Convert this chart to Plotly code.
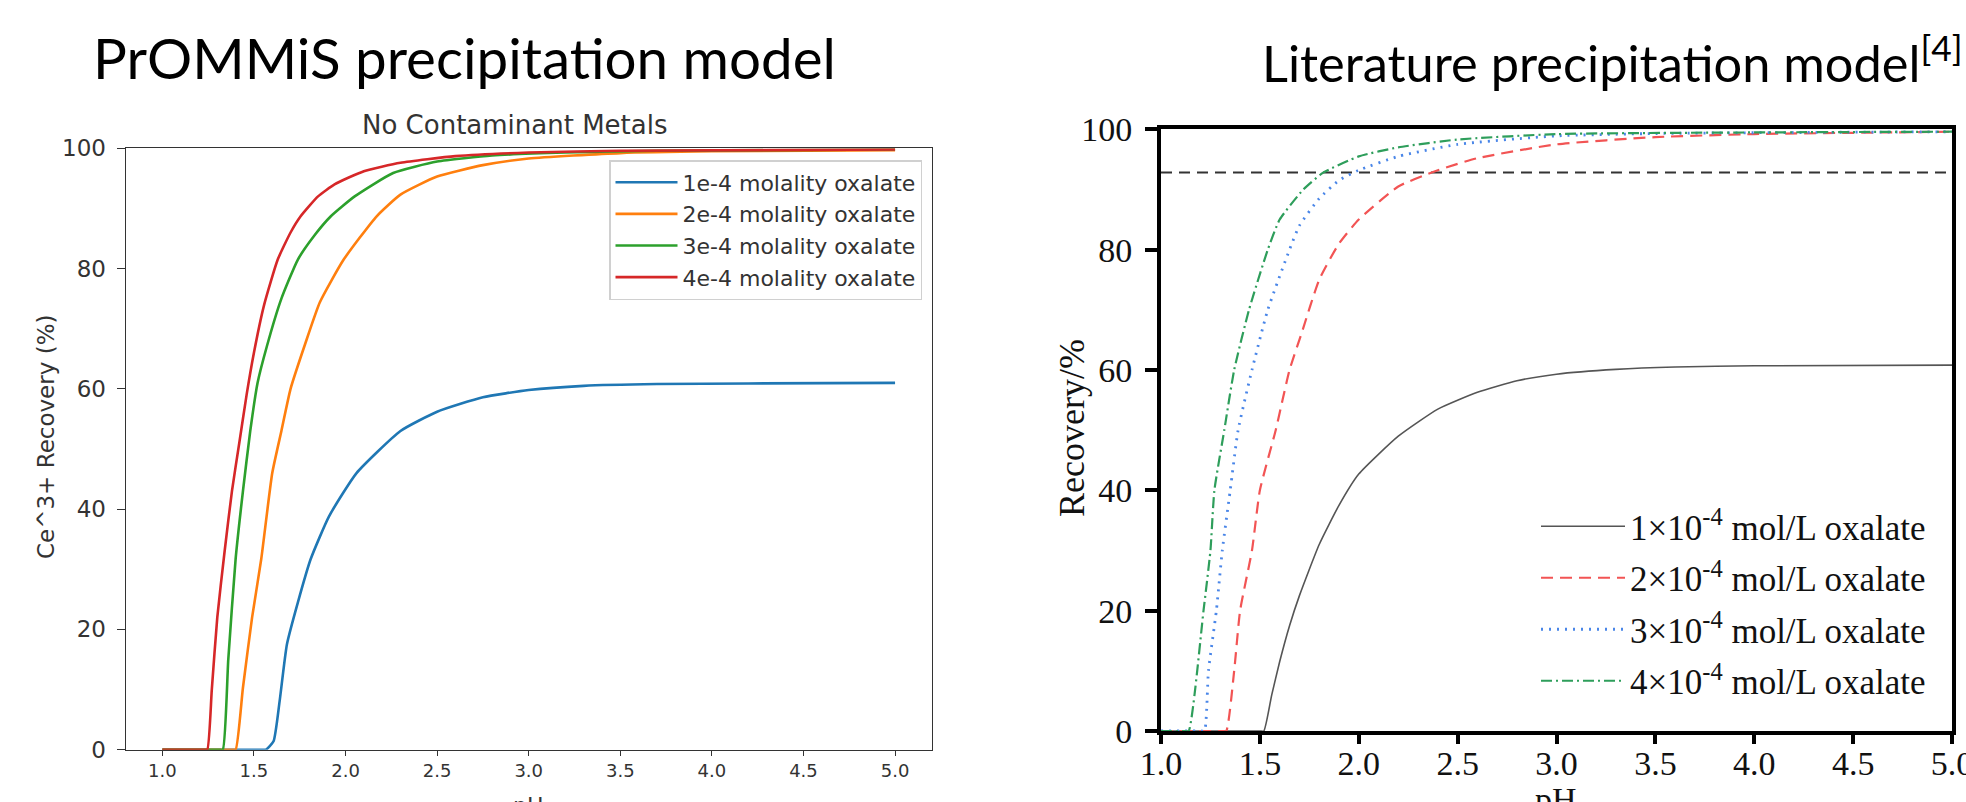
import plotly.graph_objects as go

# ---------------- data: PrOMMiS precipitation model (left) ----------------
prommis_labels = ["1e-4 molality oxalate", "2e-4 molality oxalate",
                  "3e-4 molality oxalate", "4e-4 molality oxalate"]
prommis_colors = ["#1f77b4", "#ff7f0e", "#2ca02c", "#d62728"]

ph_1e4 = [1.0, 1.54, 1.565, 1.607, 1.64, 1.68, 1.74, 1.81, 1.91, 2.06, 2.30, 2.5, 2.75, 3.0, 3.3, 3.7, 4.2, 5.0]
rec_1e4 = [0, 0, 0, 1.4, 8, 17.5, 24.5, 31.7, 38.8, 46, 53, 56.2, 58.6, 59.8, 60.5, 60.8, 60.9, 61.0]

ph_2e4 = [1.0, 1.38, 1.40, 1.44, 1.49, 1.54, 1.60, 1.65, 1.70, 1.78, 1.86, 1.99, 2.17, 2.30, 2.5, 2.75, 3.0, 3.5, 4.0, 5.0]
rec_2e4 = [0, 0, 0, 10.3, 22, 31.7, 46, 53, 60, 67.5, 74.4, 81.5, 88.7, 92.3, 95.3, 97.2, 98.3, 99.2, 99.5, 99.7]

ph_3e4 = [1.0, 1.31, 1.33, 1.36, 1.40, 1.44, 1.48, 1.52, 1.57, 1.65, 1.74, 1.83, 1.92, 2.05, 2.26, 2.5, 2.8, 3.2, 3.7, 5.0]
rec_3e4 = [0, 0, 0, 15, 31.7, 43, 53, 61, 67, 75, 81.5, 85.5, 88.7, 92, 95.9, 97.8, 98.8, 99.3, 99.6, 99.8]

ph_4e4 = [1.0, 1.225, 1.245, 1.27, 1.30, 1.34, 1.38, 1.42, 1.46, 1.50, 1.556, 1.63, 1.70, 1.755, 1.85, 1.94, 2.1, 2.3, 2.6, 3.0, 3.5, 5.0]
rec_4e4 = [0, 0, 0, 10, 22, 33, 43, 51, 59, 66, 74, 81.5, 86, 88.7, 92, 94, 96.2, 97.6, 98.7, 99.3, 99.6, 99.8]

# ---------------- data: literature precipitation model (right) ----------------
lit_labels = ["1×10<sup>-4</sup> mol/L oxalate", "2×10<sup>-4</sup> mol/L oxalate",
              "3×10<sup>-4</sup> mol/L oxalate", "4×10<sup>-4</sup> mol/L oxalate"]

lit_ph_1 = [1.0, 1.50, 1.52, 1.56, 1.6, 1.65, 1.7, 1.8, 1.9, 2.0, 2.2, 2.4, 2.6, 2.8, 3.0, 3.3, 3.6, 4.0, 5.0]
lit_rec_1 = [0, 0, 0, 6, 11.5, 17.5, 22.5, 31, 37.5, 42.7, 49, 53.5, 56.3, 58.2, 59.3, 60.1, 60.5, 60.7, 60.8]

lit_ph_2 = [1.0, 1.31, 1.33, 1.37, 1.40, 1.46, 1.50, 1.58, 1.65, 1.71, 1.8, 1.9, 2.0, 2.2, 2.4, 2.6, 3.0, 3.5, 4.0, 5.0]
lit_rec_2 = [0, 0, 0, 10, 20, 30, 40, 50, 60, 66, 75, 81, 85, 90.5, 93.2, 95.2, 97.5, 98.7, 99.2, 99.6]

lit_ph_3 = [1.0, 1.20, 1.22, 1.24, 1.28, 1.31, 1.35, 1.39, 1.46, 1.54, 1.65, 1.70, 1.8, 1.9, 2.0, 2.2, 2.5, 3.0, 3.5, 5.0]
lit_rec_3 = [0, 0, 0, 10, 20, 30, 40, 50, 60, 70, 80, 84, 88.5, 91.5, 93.2, 95.5, 97.5, 98.9, 99.3, 99.6]

lit_ph_4 = [1.0, 1.12, 1.14, 1.215, 1.25, 1.27, 1.32, 1.37, 1.445, 1.54, 1.60, 1.72, 1.82, 2.0, 2.2, 2.5, 3.0, 5.0]
lit_rec_4 = [0, 0, 0, 20, 30, 40, 50, 60, 70, 80, 85, 90, 92.8, 95.5, 97, 98.3, 99.2, 99.6]

threshold_ph = [1.0, 5.0]
threshold_rec = [92.8, 92.8]

x_ticks = [1.0, 1.5, 2.0, 2.5, 3.0, 3.5, 4.0, 4.5, 5.0]
x_ticktext = ["1.0", "1.5", "2.0", "2.5", "3.0", "3.5", "4.0", "4.5", "5.0"]
y_ticks = [0, 20, 40, 60, 80, 100]

# ---------------- figure ----------------
W, H = 1966, 802
def px(x):
    return x / W
def py(y):
    return 1 - y / H

fig = go.Figure()

left_series = [(ph_1e4, rec_1e4), (ph_2e4, rec_2e4), (ph_3e4, rec_3e4), (ph_4e4, rec_4e4)]
for (xs, ys), name, col in zip(left_series, prommis_labels, prommis_colors):
    fig.add_trace(go.Scatter(x=xs, y=ys, mode="lines", name=name,
                             line=dict(color=col, width=2.6, shape="spline", smoothing=0.5),
                             xaxis="x", yaxis="y", legend="legend"))

fig.add_trace(go.Scatter(x=threshold_ph, y=threshold_rec, mode="lines",
                         line=dict(color="#333333", width=2, dash="11px,7px"),
                         xaxis="x2", yaxis="y2", showlegend=False, hoverinfo="skip"))

right_series = [(lit_ph_1, lit_rec_1), (lit_ph_2, lit_rec_2), (lit_ph_3, lit_rec_3), (lit_ph_4, lit_rec_4)]
right_styles = [dict(color="#555555", width=1.6, dash="solid"),
                dict(color="#f25454", width=2.2, dash="12px,7px"),
                dict(color="#4a86e8", width=2.8, dash="2px,6px"),
                dict(color="#2e9e5b", width=2.2, dash="11px,4px,2px,4px")]
for (xs, ys), name, st in zip(right_series, lit_labels, right_styles):
    st = dict(st, shape="spline", smoothing=0.5)
    fig.add_trace(go.Scatter(x=xs, y=ys, mode="lines", name=name, line=st,
                             xaxis="x2", yaxis="y2", legend="legend2",
                             legendgroup=name))

left_axis_common = dict(showgrid=False, zeroline=False, showline=True, mirror=True,
                        linecolor="#333333", linewidth=1.3, ticks="outside",
                        tickcolor="#333333", tickwidth=1.3, automargin=False)
right_axis_common = dict(showgrid=False, zeroline=False, showline=True, mirror=True,
                         linecolor="#000000", linewidth=4, ticks="outside",
                         tickcolor="#000000", tickwidth=3.5, automargin=False,
                         ticklabeloverflow="allow",
                         tickfont=dict(family="Liberation Serif", size=34, color="#111111"))

fig.update_layout(
    width=W, height=H,
    margin=dict(l=0, r=0, t=0, b=0),
    paper_bgcolor="white", plot_bgcolor="white",
    xaxis=dict(domain=[px(125.7), px(931.7)], range=[0.8, 5.2], anchor="y",
               tickvals=x_ticks, ticktext=x_ticktext, ticklen=5,
               tickfont=dict(family="DejaVu Sans", size=18, color="#333333"),
               **left_axis_common),
    yaxis=dict(domain=[py(749.7), py(148.3)], range=[0, 100], anchor="x",
               tickvals=y_ticks, ticklen=8, ticklabelstandoff=6,
               tickfont=dict(family="DejaVu Sans", size=23, color="#333333"),
               **left_axis_common),
    xaxis2=dict(domain=[px(1161), px(1952)], range=[1, 5], anchor="y2",
                tickvals=x_ticks, ticktext=x_ticktext, ticklen=9, ticklabelstandoff=-10,
                **right_axis_common),
    yaxis2=dict(domain=[py(731), py(129.3)], range=[0, 100], anchor="x2",
                tickvals=y_ticks, ticklen=12, ticklabelstandoff=6, **right_axis_common),
    legend=dict(x=px(922), xanchor="right", y=py(160), yanchor="top",
                bgcolor="rgba(255,255,255,0.9)", bordercolor="#d0d0d0", borderwidth=1.5,
                font=dict(family="DejaVu Sans", size=22, color="#333333"),
                tracegroupgap=0, itemwidth=62),
    legend2=dict(x=px(1536), xanchor="left", y=py(497), yanchor="top",
                 bgcolor="rgba(255,255,255,0)", borderwidth=0,
                 font=dict(family="Liberation Serif", size=35, color="#111111"),
                 traceorder="grouped", tracegroupgap=3, itemwidth=84),
    showlegend=True,
)

annotations = [
    dict(text="PrOMMiS precipitation model", x=px(464), y=py(57), xanchor="center", yanchor="middle",
         font=dict(family="Lato", size=56.5, color="#000000")),
    dict(text="Literature precipitation model<sup>[4]</sup>", x=px(1612), y=py(59),
         xanchor="center", yanchor="middle",
         font=dict(family="Lato", size=50.5, color="#000000")),
    dict(text="No Contaminant Metals", x=px(515), y=py(125), xanchor="center", yanchor="middle",
         font=dict(family="DejaVu Sans", size=26, color="#333333")),
    dict(text="Ce^3+ Recovery (%)", x=px(46), y=py(437), xanchor="center", yanchor="middle",
         textangle=-90, font=dict(family="DejaVu Sans", size=23, color="#333333")),
    dict(text="pH", x=px(528.7), y=py(791), xanchor="center", yanchor="top",
         font=dict(family="DejaVu Sans", size=22, color="#333333")),
    dict(text="Recovery/%", x=px(1072), y=py(428), xanchor="center", yanchor="middle",
         textangle=-90, font=dict(family="Liberation Serif", size=36, color="#111111")),
    dict(text="pH", x=px(1556), y=py(779), xanchor="center", yanchor="top",
         font=dict(family="Liberation Serif", size=34, color="#111111")),
]
for a in annotations:
    a.update(xref="paper", yref="paper", showarrow=False)
fig.update_layout(annotations=annotations)

fig.write_html("out.html",
               config={"displayModeBar": False},
               post_script="document.body.style.margin='0px';document.body.style.overflow='hidden';")
